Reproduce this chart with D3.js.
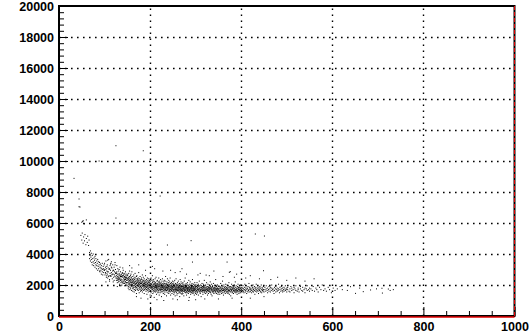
<!DOCTYPE html>
<html><head><meta charset="utf-8">
<script src="https://cdn.jsdelivr.net/npm/d3@7"></script>
<style>body{margin:0;background:#fff}svg{display:block}</style>
</head><body>
<script>
// axis tick values
const xTicks=[0,200,400,600,800,1000];
const yTicks=[0,2000,4000,6000,8000,10000,12000,14000,16000,18000,20000];
const xDomain=[0,1000], yDomain=[0,20000];

// scatter data, grouped by x column: [x, [y values...]]
const colsA=[[48,[5200]],[50,[4900,6050]],[51,[5350]],[53,[4700,6150]],[54,[5100]],[56,[4850,5950]],[57,[5250]],[59,[4600]],[60,[5000,6200]],[62,[4750]],[63,[5150]],[65,[4550]],[66,[4900]]];
const colsB=[[67,[4100,3700]],[68,[3900]],[69,[4200,3550]],[70,[3800]],[71,[3650,4050]],[72,[3450]],[73,[3900,3300]],[74,[3700]],[75,[3500,4000]],[76,[3250]],[77,[3750,3400]],[78,[3600]],[79,[3150,3850]],[80,[3450]],[81,[3300,3700]],[82,[3050]],[83,[3550,3250]],[84,[3400]],[85,[2950,3650]],[86,[3200]],[87,[3500,3050]],[88,[3300]],[89,[2900,3450]]];
const colsC=[[90,[3150,2850]],[91,[3350]],[92,[2950,3100]],[93,[2700,3250]],[94,[3050]],[95,[2850,3400]],[96,[3000,2650]],[97,[3200]],[98,[2800,3050]],[99,[2950,3300]]];
const colsD=[[100,[2950,3400]],[101,[2650,3000]],[102,[3150,2800]],[103,[3550,2750,2200]],[104,[2500,3050]],[105,[2900,3200,2600]],[106,[3300,2700]],[107,[2450,2850,3600]],[108,[3100,2850]],[109,[3650,2550]],[110,[2600,3000]],[111,[2350,3050,2250]],[112,[2750,3250]],[113,[2950,2600,3350]],[114,[2550,3400]],[115,[2800,3150,3500]],[116,[2650,3100]],[117,[2400,2700]],[118,[2900,3300]],[119,[2700,2950,2200]],[120,[2500,2950]],[121,[3150,2300]],[122,[2650,2850]],[123,[3450,2550,3300]],[124,[2750,3000]],[125,[2450,2800]]];
const colsE=[[126,[2600,2300,2750]],[127,[2850,2450,3250]],[128,[2150,2700,2400,1900]],[129,[2550,3050,2300]],[130,[2350,2650,2500]],[131,[2200,2900,2400]],[132,[2500,2750,2250,3000]],[133,[2050,2400,2650]],[134,[2600,3150,2350]],[135,[2300,2850,2550]],[136,[2450,2150,2650,1950]],[137,[2700,2550,2250]],[138,[2000,2350,2550]],[139,[2800,2600,2150]],[140,[2250,2500,2750,3100]],[141,[2950,2100,2600]],[142,[2400,2650,2200]],[143,[2300,2750,2500]],[144,[1950,2550,2350,2100]],[145,[2450,2200,2700]],[146,[2850,2350,2500,2200]],[147,[2600,2050,2400]],[148,[2500,2300,2150]],[149,[2700,2150,2450]],[150,[2400,2600]]];
const colsF=[[151,[2300,1950,2650,2150]],[152,[2450,2050,1800,2350]],[153,[2200,2750,1900,2500]],[154,[2100,2400,1700,2250]],[155,[2550,2000,2300,2900]],[156,[1850,2150,2450,2050]],[157,[2350,1750,2600,2200]],[158,[2000,2300,1950,2700]],[159,[2150,2500,1650,2050]],[160,[2400,1900,2250,2850]],[161,[2050,2350,1800,2150]],[162,[2250,1600,2550,2000]],[163,[1950,2200,2400,1750]],[164,[2300,2100,1850,2650]],[165,[2150,1950,2450,1550]],[166,[2000,2350,1700,2200]],[167,[2500,1850,2100,2750]],[168,[1900,2250,2050,1650]],[169,[2200,1750,2400,2000]],[170,[2100,2550,1850,1450]],[171,[1950,2300,2150,2600]],[172,[2250,1700,2000,2400]],[173,[1800,2150,2350,1950]],[174,[2050,2450,1650,2200]],[175,[2300,1900,2100,2800]],[176,[1750,2200,2000,1500]],[177,[2150,1850,2400,2050]],[178,[1950,2300,1700,2550]],[179,[2100,1600,2250,1900]],[180,[2350,2000,1800,2150]],[181,[1850,2100,2450,1650]],[182,[2200,1950,1750,2350]],[183,[2000,2250,1550,2650]],[184,[1900,2150,2050,1700]],[185,[2300,1800,2000,2500]],[186,[1650,2100,1950,2250]],[187,[2050,1850,2400,1450]],[188,[1950,2200,1700,2100]],[189,[2150,1750,2300,1900]],[190,[1800,2050,2600,2000]],[191,[2250,1900,1600,2150]],[192,[2000,1700,2350,1850]],[193,[1850,2200,2050,1400]],[194,[2100,1950,1750,2450]],[195,[1900,2300,2000,1650]],[196,[2200,1800,2150,1550]],[197,[1750,2050,1950,2400]],[198,[2000,1850,2250,1700]],[199,[1950,2150,1600,2300]],[200,[1850,2000,2100,1350]]];
const colsG=[[201,[1950,1650,2250,1800]],[202,[2100,1500,1900,2450]],[203,[1750,2050,1850,1300]],[204,[2000,2300,1600,1900]],[205,[1850,1700,2150,2600]],[206,[1950,2200,1450,1750]],[207,[2050,1800,1900,2350]],[208,[1650,2000,2250,1550]],[209,[1900,1750,2100,1200]],[210,[2200,1850,1600,2000]],[211,[1800,2050,2400,1700]],[212,[1950,1550,1850,2150]],[213,[2100,1900,1650,2500]],[214,[1750,2000,1400,1850]],[215,[1900,2250,1800,1600]],[216,[2050,1700,1950,2300]],[217,[1850,1500,2100,1750]],[218,[1650,2000,2200,1900]],[219,[2000,1800,1550,2450]],[220,[1900,2150,1700,1350]],[221,[1750,1950,2050,2250]],[222,[2100,1650,1850,1500]],[223,[1800,2000,2350,1700]],[224,[1950,1600,1900,2150]],[225,[1700,2050,1800,1250]],[226,[2000,1850,2250,1550]],[227,[1850,1700,1950,2400]],[228,[1600,1900,2100,1750]],[229,[2050,1800,1450,1950]],[230,[1750,2200,1850,1650]],[231,[1900,1550,2000,2300]],[232,[1800,2100,1700,1400]],[233,[1950,1650,2250,1850]],[234,[1700,2000,1800,2550]],[235,[2100,1750,1550,1900]],[236,[1850,2050,1650,1300]],[237,[1650,1950,2200,1800]],[238,[2000,1700,1850,2400]],[239,[1800,1500,2050,1750]],[240,[1900,2150,1600,1950]],[241,[1750,1850,2300,1450]],[242,[2050,1650,1900,1700]],[243,[1600,2000,1800,2200]],[244,[1950,1750,1550,2450]],[245,[1850,2100,1700,1350]],[246,[1700,1900,2000,1600]],[247,[2150,1800,1650,1950]],[248,[1750,2050,1850,1450]],[249,[1900,1600,2250,1800]],[250,[1800,1950,1700,2100]]];
const colsH=[[251,[1850,1550,2050,1700]],[252,[1650,1950,1400,2200]],[253,[1800,2000,1600,1900]],[254,[1950,1700,2300,1500]],[255,[1750,1850,1300,2050]],[256,[1600,2100,1800,1700]],[257,[1900,1650,1950,2400]],[258,[1700,1800,1500,2000]],[259,[2050,1600,1850,1350]],[260,[1750,1950,2150,1650]],[261,[1850,1450,1700,2000]],[262,[1650,1900,1800,2250]],[263,[2000,1750,1550,1850]],[264,[1600,1850,2100,1700]],[265,[1800,1500,1950,1250]],[266,[1900,1700,1650,2350]],[267,[1550,2050,1800,1750]],[268,[1850,1650,2200,1450]],[269,[1700,1950,1600,1900]],[270,[2100,1800,1750,1400]],[271,[1650,1900,2000,1550]],[272,[1800,1700,1450,2150]],[273,[1950,1600,1850,1750]],[274,[1750,2050,1300,1900]],[275,[1600,1800,2250,1650]],[276,[1850,1550,1950,1700]],[277,[1700,2000,1800,2450]],[278,[1900,1650,1500,1850]],[279,[1550,1750,2100,1950]],[280,[1800,1900,1600,1350]],[281,[2000,1700,1850,1500]],[282,[1650,1800,2150,1750]],[283,[1850,1550,1700,2000]],[284,[1750,1950,1450,1600]],[285,[1600,1850,2300,1800]],[286,[1900,1700,1650,1200]],[287,[1700,2050,1800,1550]],[288,[1850,1600,1950,2200]],[289,[1550,1800,1750,1400]],[290,[1950,1650,2000,1700]],[291,[1750,1900,1500,1850]],[292,[1650,2100,1800,1600]],[293,[1800,1550,1950,2350]],[294,[1900,1700,1650,1450]],[295,[1600,1850,2050,1750]],[296,[1750,1500,1900,1650]],[297,[2000,1800,1350,1700]],[298,[1650,1950,1750,2150]],[299,[1850,1600,1800,1550]],[300,[1700,1900,2000,1450]]];
const colsI=[[301,[1800,1550,2000]],[302,[1650,1900,1400]],[303,[1750,2150,1600]],[304,[1850,1500,1700]],[305,[1600,1950,1800]],[306,[1700,1350,2050]],[307,[1900,1650,1750]],[308,[1550,1800,2250]],[309,[1750,1600,1950]],[310,[1850,1450,1700]],[311,[1650,2000,1550]],[312,[1800,1700,1250]],[313,[1950,1600,1850]],[314,[1700,1800,2100]],[315,[1550,1900,1650]],[316,[1800,1400,1750]],[317,[1650,2050,1850]],[318,[1900,1550,1700]],[319,[1750,1650,2300]],[320,[1600,1850,1500]],[321,[1800,1950,1700]],[322,[1650,1450,2000]],[323,[1850,1750,1600]],[324,[1700,2150,1550]],[325,[1550,1800,1900]],[326,[1750,1350,1650]],[327,[1900,1700,2050]],[328,[1600,1850,1450]],[329,[1800,1650,1750]],[330,[1700,2000,1550]],[331,[1850,1600,1800]],[332,[1550,1750,2200]],[333,[1750,1900,1500]],[334,[1650,1400,1850]],[335,[1800,2050,1700]],[336,[1600,1750,1300]],[337,[1900,1550,1950]],[338,[1700,1850,1650]],[339,[1550,2100,1750]],[340,[1800,1600,1450]],[341,[1650,1950,1800]],[342,[1850,1700,2000]],[343,[1750,1500,1600]],[344,[1600,1800,2350]],[345,[1700,1650,1900]],[346,[1900,1450,1750]],[347,[1550,1800,1700]],[348,[1800,2000,1600]],[349,[1650,1750,1400]],[350,[1750,1900,1550]]];
const colsJ=[[351,[1700,1500,1950]],[352,[1800,1600]],[353,[1650,1900,1400]],[354,[1750,1550]],[355,[1850,1650,2100]],[356,[1600,1800]],[357,[1700,1450,1950]],[358,[1550,1750]],[359,[1800,1650,2250]],[360,[1900,1500]],[361,[1650,1750,1350]],[362,[1700,2000]],[363,[1550,1850,1600]],[364,[1800,1700]],[365,[1650,1450,1900]],[366,[1750,2050]],[367,[1600,1800,1550]],[368,[1850,1700]],[369,[1700,1500,2000]],[370,[1600,1800]],[371,[1750,1950,1450]],[372,[1550,1650]],[373,[1850,1700,2150]],[374,[1650,1400]],[375,[1800,1600,1900]],[376,[1700,1550]],[377,[1900,1750,1300]],[378,[1600,1850]],[379,[1700,1650,2050]],[380,[1800,1500]],[381,[1550,1750,1950]],[382,[1700,1850]],[383,[1650,1450,1800]],[384,[1900,1600]],[385,[1750,2000,1550]],[386,[1650,1800]],[387,[1600,1700,2200]],[388,[1850,1500]],[389,[1700,1950,1650]],[390,[1550,1750]],[391,[1800,1600,1400]],[392,[1650,1900]],[393,[1750,1550,2050]],[394,[1850,1700]],[395,[1600,1800,1450]],[396,[1700,1950]],[397,[1550,1650,1850]],[398,[1800,1750]],[399,[1650,2000,1500]],[400,[1750,1600]]];
const colsK=[[401,[1700,1850]],[402,[1550]],[403,[1800,1650]],[404,[1950]],[405,[1600,1750]],[406,[1500]],[407,[1850,1700]],[408,[2050]],[409,[1650,1550]],[410,[1800]],[411,[1700,1950]],[412,[1450]],[413,[1600,1800]],[414,[1750]],[415,[1900,1550]],[416,[1650]],[417,[1700,2100]],[418,[1850]],[419,[1550,1750]],[420,[1600]],[421,[1800,1700]],[422,[1950]],[423,[1650,1500]],[424,[1750]],[425,[1850,1600]],[426,[2000]],[427,[1700,1550]],[428,[1800]],[429,[1650,1900]],[430,[1400]],[431,[1750,1600]],[432,[1850]],[433,[1700,2050]],[434,[1550]],[435,[1800,1650]],[436,[1950]],[437,[1600,1750]],[438,[1450]],[439,[1850,1700]],[440,[1650]],[441,[1750,1900]],[442,[1550]],[443,[1800,1600]],[444,[2000]],[445,[1700,1500]],[446,[1850]],[447,[1650,1750]],[448,[1600]],[449,[1900,1700]],[450,[1550]]];
const colsL=[[452,[1700,1850]],[454,[1600]],[455,[1750,1950]],[457,[1650]],[458,[1800,1500]],[460,[1700]],[461,[1900,1600]],[463,[1750]],[464,[1550,1850]],[466,[1650]],[467,[1800,2000]],[469,[1700]],[470,[1600,1750]],[472,[1450]],[473,[1850,1650]],[475,[1750]],[476,[1550,1900]],[478,[1700]],[479,[1800,1600]],[481,[1650]],[482,[1750,2050]],[484,[1500]],[485,[1850,1700]],[487,[1600]],[488,[1750,1900]],[490,[1650]],[491,[1800,1550]],[493,[1700]],[494,[1600,1850]],[496,[1750]],[497,[1950,1650]],[499,[1700]],[500,[1550,1800]]];
const colsM=[[502,[1700,1850]],[505,[1600]],[507,[1750,1550]],[509,[1900]],[511,[1650,1800]],[514,[1700]],[516,[1500,1850]],[518,[1750]],[520,[1650,1950]],[523,[1600]],[525,[1800,1700]],[527,[1550]],[530,[1750,1900]],[533,[1650]],[535,[1850,1600]],[538,[1700]],[540,[1800,1500]],[543,[1750]],[545,[1650,1950]],[548,[1700]],[550,[1600,1800]]];
const colsN=[[553,[1750]],[556,[1650]],[558,[1900]],[561,[1600]],[564,[1800]],[566,[1700]],[569,[1550]],[572,[1850]],[575,[1700]],[578,[2000]],[581,[1650]],[584,[1750]],[587,[1600]],[591,[1850]],[594,[1700]],[598,[1500]],[602,[1800]],[606,[1650]],[611,[1750]],[617,[1900]]];
const colsO=[[622,[1700]],[633,[1650]],[640,[1890]],[651,[1460]],[660,[1800]],[668,[1570]],[684,[1680]],[697,[1750]],[709,[1790]],[710,[1480]],[723,[1740]],[727,[1650]],[734,[1700]]];
const outliers=[[33,[8880]],[44,[7550,7050]],[46,[7030]],[88,[10000]],[125,[10985,6320]],[185,[10660]],[222,[7740]],[52,[6100]],[55,[5950]],[431,[5290]],[451,[5160]],[238,[4580]],[290,[4860]],[293,[3480]],[369,[3480]],[376,[2860]],[323,[2640]],[266,[2860]],[449,[2920]],[374,[2820]],[160,[3100]],[175,[3300]],[210,[3050]],[245,[2950]],[270,[3050]],[310,[2750]],[340,[2900]],[390,[2700]],[420,[2600]],[480,[2500]],[520,[2450]],[560,[2400]],[180,[1150]],[230,[1000]],[260,[1050]],[300,[1050]],[350,[1100]],[420,[1150]]];
const sparse=[[155,[3250]],[190,[2950]],[205,[3200]],[228,[2900]],[255,[2800]],[280,[2700]],[305,[2650]],[330,[2600]],[360,[2550]],[385,[2500]],[410,[2450]],[440,[2400]],[465,[2350]],[500,[2300]],[540,[2250]],[170,[1250]],[195,[1100]],[215,[1050]],[250,[1100]],[285,[1000]],[320,[1100]],[380,[1150]],[450,[1250]]];

const groups=[colsA,colsB,colsC,colsD,colsE,colsF,colsG,colsH,colsI,colsJ,colsK,colsL,colsM,colsN,colsO,outliers,sparse];
const points=[];
groups.forEach(g=>g.forEach(([xv,ys])=>ys.forEach(yv=>points.push([xv,yv]))));

const W=529,H=334;
const L=59,R=514.5,T=6,B=316;
const x=d3.scaleLinear().domain(xDomain).range([L,R]);
const y=d3.scaleLinear().domain(yDomain).range([B,T]);

const svg=d3.select('body').append('svg').attr('width',W).attr('height',H);
svg.append('rect').attr('width',W).attr('height',H).attr('fill','#fff');

// grid
const gridX=xTicks.slice(1,-1), gridY=yTicks.slice(1,-1);
svg.append('g').selectAll('line').data(gridX).join('line')
  .attr('x1',d=>Math.round(x(d))+0.5).attr('x2',d=>Math.round(x(d))+0.5)
  .attr('y1',B).attr('y2',T)
  .attr('stroke','#000').attr('stroke-width',1.4).attr('stroke-dasharray','1.6,4.4');
svg.append('g').selectAll('line').data(gridY).join('line')
  .attr('y1',d=>Math.round(y(d))+0.5).attr('y2',d=>Math.round(y(d))+0.5)
  .attr('x1',L).attr('x2',R)
  .attr('stroke','#000').attr('stroke-width',1.4).attr('stroke-dasharray','1.6,4.4');

// points
svg.append('g').selectAll('rect').data(points).join('rect')
  .attr('x',d=>x(d[0])-0.5).attr('y',d=>y(d[1])-0.5)
  .attr('width',1).attr('height',1).attr('fill','#000');

// ticks (inside frame)
const yMinor=d3.range(0,20001,400).filter(v=>v%2000!==0);
const xMinor=d3.range(0,1001,50).filter(v=>v%200!==0);
function clean(g){g.select('.domain').remove();g.selectAll('line').attr('stroke','#000').attr('stroke-width',1);}
svg.append('g').attr('transform',`translate(${L},0)`).call(d3.axisRight(y).tickValues(yMinor).tickSize(5).tickFormat('')).call(clean);
svg.append('g').attr('transform',`translate(${L},0)`).call(d3.axisRight(y).tickValues(yTicks).tickSize(9).tickFormat('')).call(clean);
svg.append('g').attr('transform',`translate(0,${B})`).call(d3.axisTop(x).tickValues(xMinor).tickSize(5).tickFormat('')).call(clean);
svg.append('g').attr('transform',`translate(0,${B})`).call(d3.axisTop(x).tickValues(xTicks).tickSize(9).tickFormat('')).call(clean);

// frame
svg.append('rect').attr('x',L).attr('y',T).attr('width',R-L).attr('height',B-T)
  .attr('fill','none').attr('stroke','#000').attr('stroke-width',2);

// red lines
svg.append('line').attr('x1',x(0)).attr('x2',x(1000)).attr('y1',y(0)+1).attr('y2',y(0)+1)
  .attr('stroke','#e00000').attr('stroke-width',1.5);
svg.append('line').attr('x1',x(1000)).attr('x2',x(1000)).attr('y1',y(0)).attr('y2',y(20000))
  .attr('stroke','#e00000').attr('stroke-width',1).attr('stroke-dasharray','4,2');

// labels
const font='"Liberation Sans",Arial,Helvetica,sans-serif';
function lab(g){g.select('.domain').remove();g.selectAll('line').remove();
  g.selectAll('text').attr('font-family',font).attr('font-weight','bold').attr('font-size','12.5px').attr('fill','#000');}
svg.append('g').attr('transform',`translate(${L},0)`).call(d3.axisLeft(y).tickValues(yTicks).tickSize(0).tickPadding(5).tickFormat(d3.format('d'))).call(lab);
svg.append('g').attr('transform',`translate(0,${B})`).call(d3.axisBottom(x).tickValues(xTicks).tickSize(0).tickPadding(6).tickFormat(d3.format('d'))).call(lab);
</script>
</body></html>
